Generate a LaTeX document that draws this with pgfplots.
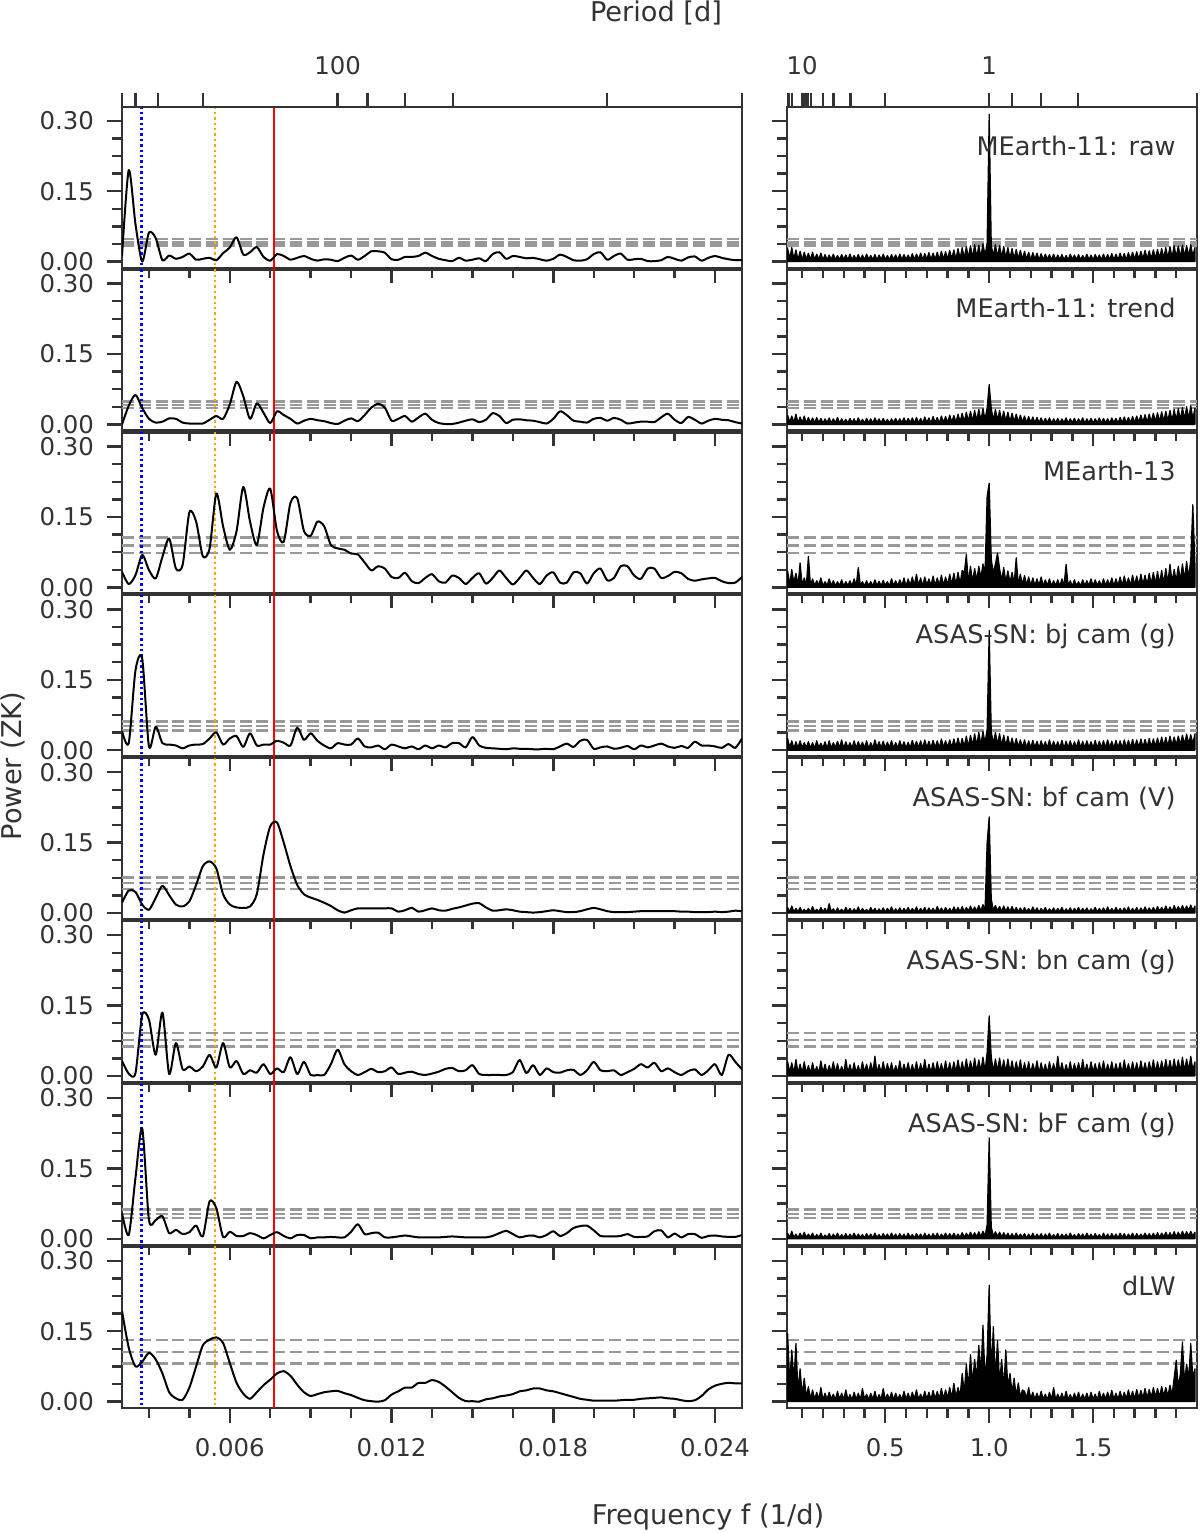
\documentclass[border=0pt]{standalone}
\usepackage{fontspec}
\setmainfont{DejaVu Sans}
\usepackage{pgfplots}
\usepackage{pgfplotstable}
\pgfplotsset{compat=1.18}
\definecolor{tc}{HTML}{333333}
\definecolor{fapc}{HTML}{999999}
\definecolor{myorange}{HTML}{FFA500}

\pgfplotstableread{
x a b c d e f g h
0.00200 .012 0 .033 .041 .022 .032 .055 .193
0.00225 .195 .04 .007 .015 .048 .005 .008 .115
0.00250 .08 .063 .026 .17 .045 .006 .13 .075
0.00275 0 .035 .069 .195 .018 .13 .235 .085
0.00300 .062 .012 .037 .008 .007 .12 .04 .104
0.00325 .05 .004 .019 .05 .032 .045 .04 .09
0.00350 .003 .006 .065 .015 .058 .135 .048 .06
0.00375 .013 .013 .104 .012 .038 .004 .012 .02
0.00400 .006 .012 .04 .01 .018 .07 .019 .007
0.00425 .01 .004 .048 .004 .014 .014 .01 .004
0.00450 .017 .002 .16 .01 .025 .02 .014 .03
0.00475 .004 .002 .14 .012 .06 .01 .028 .075
0.00500 .006 .002 .066 .013 .1 .02 .005 .12
0.00525 .008 .01 .083 .025 .11 .045 .08 .132
0.00550 .003 .018 .2 .038 .095 .018 .065 .137
0.00575 .018 .012 .13 .012 .04 .07 .004 .125
0.00600 .03 .043 .08 .025 .018 .018 .015 .082
0.00625 .052 .091 .12 .03 .012 .032 .006 .04
0.00650 .015 .06 .214 .007 .011 .004 .006 .017
0.00675 .02 .012 .14 .036 .014 .012 .012 .006
0.00700 .031 .045 .09 .01 .04 .007 .008 .02
0.00725 .01 .025 .17 .012 .125 .025 .001 .035
0.00750 .002 .003 .21 .012 .185 .004 .008 .047
0.00775 .016 .028 .12 .02 .193 .016 .014 .06
0.00800 .012 .02 .097 .016 .15 .008 .006 .065
0.00825 .004 .012 .18 .01 .1 .04 .001 .055
0.00850 .008 .002 .19 .048 .06 .004 .008 .036
0.00875 .012 .008 .12 .022 .04 .03 .008 .02
0.00900 .006 .012 .11 .036 .033 .002 .001 .012
0.00925 .002 .009 .14 .02 .028 .002 .003 .016
0.00950 .005 .007 .13 .01 .022 .002 .003 .02
0.00975 .004 .003 .09 .004 .015 .025 .004 .022
0.01000 .001 .001 .083 .015 .006 .056 .003 .023
0.01025 .008 .008 .08 .012 .001 .025 .003 .018
0.01050 .013 .013 .072 .012 .006 .01 .015 .014
0.01075 .004 .007 .07 .025 .01 .002 .031 .008
0.01100 .012 .02 .053 .008 .01 .008 .01 .003
0.01125 .022 .036 .036 .006 .01 .015 .012 .001
0.01150 .022 .044 .045 .01 .01 .008 .013 0
0.01175 .019 .036 .04 .002 .01 .01 .003 .003
0.01200 .005 .008 .022 .012 .01 .018 .003 .015
0.01225 .004 .012 .02 .008 .003 .004 .005 .022
0.01250 .01 .018 .031 .004 .006 .007 .007 .03
0.01275 .01 .006 .013 .008 .011 .009 .005 .03
0.01300 .012 .015 .009 .002 .003 .004 .003 .04
0.01325 .019 .023 .02 .01 .006 .002 .003 .04
0.01350 .012 .01 .028 .004 .01 .005 .003 .046
0.01375 .006 .003 .013 .01 .006 .009 .003 .042
0.01400 .003 .001 .01 .006 .005 .015 .004 .032
0.01425 .001 .001 .025 .015 .009 .017 .005 .02
0.01450 .008 .004 .02 .015 .012 .01 .004 .008
0.01475 .002 .008 .007 .006 .016 .012 .003 .001
0.01500 .004 .011 .02 .028 .02 .023 .003 .001
0.01525 .007 .005 .03 .01 .021 .004 .003 0
0.01550 .001 .01 .008 .005 .012 .002 .003 .005
0.01575 .016 .024 .02 .004 .005 .002 .006 .007
0.01600 .02 .018 .036 .003 .006 .002 .012 .011
0.01625 .006 .003 .02 .002 .008 .002 .017 .013
0.01650 .012 .01 .006 .004 .006 .008 .01 .016
0.01675 .01 .011 .02 .003 .003 .034 .003 .022
0.01700 .007 .009 .036 .003 .002 .006 .006 .024
0.01725 .008 .008 .02 .002 .001 .023 .007 .028
0.01750 .005 .005 .007 .002 .002 .002 .003 .028
0.01775 .002 .002 .025 .003 .004 .016 .008 .024
0.01800 .006 .012 .032 .002 .006 .008 .016 .022
0.01825 .015 .028 .01 .008 .004 .007 .006 .018
0.01850 .01 .02 .01 .014 .002 .012 .012 .014
0.01875 .003 .008 .032 .007 .002 .013 .023 .01
0.01900 .002 .006 .03 .02 .004 .002 .027 .006
0.01925 .005 .004 .008 .022 .008 .012 .028 .004
0.01950 .016 .012 .03 .003 .011 .03 .018 .002
0.01975 .02 .014 .04 .006 .008 .012 .006 .002
0.02000 .004 .008 .015 .008 .004 .01 .005 .002
0.02025 .012 .014 .02 .003 .002 .012 .005 .002
0.02050 .017 .01 .045 .005 .002 .002 .006 .003
0.02075 .004 .002 .045 .009 .002 .008 .01 .004
0.02100 .005 .004 .025 .002 .003 .015 .004 .004
0.02125 .006 .006 .018 .01 .004 .025 .004 .006
0.02150 .001 .006 .04 .006 .004 .018 .005 .007
0.02175 .001 .005 .04 .01 .004 .028 .016 .008
0.02200 .003 .015 .02 .014 .004 .01 .018 .009
0.02225 .01 .023 .024 .008 .004 .016 .003 .007
0.02250 .006 .01 .033 .005 .004 .008 .011 .006
0.02275 .002 .003 .03 .009 .003 .002 .003 .003
0.02300 .009 .016 .018 .005 .003 .01 .01 .001
0.02325 .011 .01 .014 .018 .002 .014 .01 .003
0.02350 .002 .002 .017 .01 .002 .002 .002 .012
0.02375 .008 .008 .019 .01 .002 .012 .006 .026
0.02400 .012 .012 .02 .008 .003 .025 .007 .034
0.02425 .008 .01 .013 .005 .002 .002 .005 .038
0.02450 .005 .009 .009 .013 .003 .045 .004 .04
0.02475 .003 .005 .01 .005 .005 .03 .004 .039
0.02500 .003 .002 .022 .025 .004 .014 .008 .039
}\Ldata

\pgfplotstableread{
x a b c d e f g h
0.03 .028 .02 .035 .025 .012 .03 .012 .145
0.04 .006 .005 .006 .006 .003 .008 .003 .04
0.05 .03 .018 .038 .02 .015 .028 .016 .11
0.06 .005 .004 .01 .004 .002 .006 .003 .045
0.07 .025 .022 .03 .018 .01 .035 .01 .124
0.08 .004 .003 .005 .005 .003 .006 .002 .02
0.09 .022 .016 .052 .02 .012 .025 .012 .07
0.10 .004 .004 .004 .005 .002 .007 .003 .015
0.11 .02 .018 .02 .016 .008 .03 .014 .05
0.12 .005 .003 .004 .006 .003 .006 .003 .01
0.13 .018 .015 .066 .018 .01 .022 .01 .032
0.14 .004 .004 .004 .005 .002 .006 .003 .006
0.15 .02 .014 .018 .016 .014 .028 .012 .025
0.16 .004 .003 .004 .004 .003 .007 .002 .005
0.17 .016 .015 .014 .02 .008 .02 .009 .02
0.18 .005 .004 .005 .006 .002 .006 .003 .005
0.19 .018 .013 .02 .015 .012 .032 .012 .03
0.20 .004 .003 .003 .005 .003 .007 .002 .004
0.21 .015 .012 .012 .018 .01 .025 .008 .018
0.22 .004 .004 .004 .004 .002 .006 .003 .005
0.23 .014 .014 .018 .02 .02 .022 .011 .02
0.24 .005 .003 .004 .005 .003 .008 .002 .006
0.25 .016 .012 .014 .016 .009 .03 .01 .016
0.26 .004 .004 .003 .006 .002 .006 .003 .004
0.27 .013 .015 .012 .019 .011 .026 .012 .022
0.28 .004 .003 .004 .005 .003 .007 .002 .005
0.29 .015 .012 .016 .022 .008 .02 .009 .018
0.30 .005 .004 .003 .004 .002 .006 .003 .004
0.31 .014 .011 .012 .018 .012 .035 .011 .025
0.32 .004 .003 .004 .006 .003 .007 .002 .005
0.33 .016 .013 .014 .016 .01 .024 .01 .015
0.34 .004 .004 .003 .005 .002 .006 .003 .004
0.35 .013 .012 .018 .02 .009 .028 .012 .02
0.36 .005 .003 .004 .005 .003 .007 .002 .005
0.37 .015 .014 .042 .018 .013 .022 .01 .018
0.38 .004 .004 .004 .006 .002 .006 .003 .004
0.39 .014 .011 .012 .017 .01 .03 .009 .028
0.40 .004 .003 .003 .005 .003 .008 .002 .005
0.41 .016 .013 .014 .02 .008 .025 .011 .016
0.42 .005 .004 .004 .004 .002 .006 .003 .004
0.43 .013 .012 .012 .016 .012 .028 .01 .018
0.44 .004 .003 .003 .005 .003 .007 .002 .005
0.45 .015 .014 .016 .022 .01 .042 .012 .022
0.46 .004 .004 .004 .006 .002 .006 .003 .004
0.47 .014 .012 .013 .018 .009 .024 .009 .015
0.48 .005 .003 .003 .005 .003 .007 .002 .005
0.49 .016 .013 .015 .019 .011 .03 .011 .028
0.50 .004 .004 .004 .005 .002 .006 .003 .004
0.51 .013 .011 .012 .017 .01 .026 .01 .016
0.52 .004 .003 .003 .006 .003 .008 .002 .005
0.53 .015 .012 .018 .02 .013 .028 .012 .02
0.54 .005 .004 .004 .005 .002 .006 .003 .004
0.55 .014 .013 .014 .016 .009 .022 .01 .018
0.56 .004 .003 .003 .005 .003 .007 .002 .005
0.57 .016 .012 .016 .02 .011 .032 .011 .015
0.58 .004 .004 .004 .006 .002 .006 .003 .004
0.59 .015 .014 .02 .018 .01 .025 .01 .022
0.60 .005 .003 .003 .005 .003 .008 .002 .005
0.61 .014 .013 .018 .017 .012 .028 .012 .018
0.62 .004 .004 .004 .005 .002 .006 .003 .004
0.63 .017 .014 .022 .021 .01 .024 .009 .02
0.64 .004 .003 .004 .006 .003 .007 .002 .006
0.65 .016 .015 .028 .019 .013 .03 .011 .025
0.66 .005 .004 .004 .005 .002 .006 .003 .005
0.67 .018 .013 .02 .02 .01 .026 .01 .016
0.68 .004 .003 .003 .005 .003 .008 .002 .005
0.69 .017 .016 .022 .022 .012 .035 .012 .022
0.70 .005 .004 .005 .006 .002 .006 .003 .006
0.71 .019 .014 .018 .019 .011 .025 .01 .02
0.72 .004 .003 .004 .005 .003 .007 .002 .005
0.73 .018 .017 .024 .021 .01 .028 .011 .024
0.74 .005 .004 .004 .006 .002 .006 .003 .006
0.75 .02 .015 .02 .02 .014 .03 .012 .022
0.76 .004 .003 .005 .005 .003 .008 .002 .006
0.77 .022 .018 .026 .024 .011 .026 .01 .028
0.78 .005 .004 .004 .006 .002 .006 .003 .006
0.79 .021 .017 .022 .02 .012 .032 .012 .025
0.80 .005 .004 .005 .006 .003 .007 .003 .008
0.81 .024 .02 .028 .022 .01 .028 .011 .03
0.82 .006 .005 .006 .006 .002 .006 .003 .008
0.83 .025 .019 .03 .024 .013 .03 .012 .039
0.84 .005 .005 .006 .007 .003 .008 .003 .01
0.85 .028 .022 .032 .026 .012 .034 .01 .03
0.86 .006 .006 .008 .007 .003 .007 .003 .012
0.87 .03 .024 .036 .025 .014 .03 .013 .06
0.88 .007 .006 .03 .008 .003 .008 .003 .02
0.89 .032 .026 .07 .03 .012 .036 .012 .08
0.90 .008 .007 .01 .008 .004 .008 .004 .03
0.91 .034 .028 .045 .032 .015 .032 .014 .1
0.92 .008 .007 .012 .01 .004 .009 .004 .04
0.93 .036 .03 .04 .035 .013 .038 .013 .09
0.94 .009 .008 .015 .01 .004 .009 .004 .05
0.95 .035 .032 .045 .038 .016 .034 .015 .12
0.96 .01 .009 .02 .012 .005 .01 .005 .06
0.97 .038 .034 .05 .04 .018 .04 .016 .163
0.98 .012 .01 .03 .015 .006 .01 .006 .05
0.99 .04 .036 .194 .045 .15 .05 .03 .1
1.00 .314 .085 .222 .255 .205 .128 .215 .248
1.01 .035 .034 .06 .04 .03 .04 .025 .06
1.02 .012 .01 .03 .014 .006 .01 .006 .16
1.03 .036 .032 .05 .038 .016 .036 .015 .05
1.04 .01 .009 .073 .012 .005 .01 .005 .13
1.05 .034 .03 .04 .035 .014 .038 .014 .04
1.06 .009 .008 .015 .01 .004 .009 .004 .09
1.07 .032 .028 .042 .032 .015 .034 .013 .03
1.08 .008 .007 .012 .009 .004 .008 .004 .11
1.09 .03 .026 .035 .03 .013 .036 .012 .03
1.10 .007 .006 .01 .008 .003 .008 .003 .06
1.11 .028 .024 .032 .026 .014 .032 .011 .02
1.12 .006 .006 .008 .007 .003 .007 .003 .05
1.13 .026 .022 .063 .025 .012 .03 .012 .012
1.14 .006 .005 .006 .007 .003 .008 .003 .04
1.15 .024 .02 .028 .022 .011 .034 .01 .01
1.16 .005 .005 .006 .006 .002 .006 .003 .025
1.17 .022 .018 .025 .022 .012 .028 .011 .022
1.18 .005 .004 .005 .006 .003 .007 .002 .008
1.19 .02 .017 .022 .02 .01 .03 .01 .03
1.20 .004 .004 .004 .005 .002 .006 .003 .006
1.21 .019 .016 .02 .021 .013 .026 .012 .02
1.22 .005 .003 .004 .006 .003 .008 .002 .005
1.23 .018 .015 .018 .019 .011 .032 .01 .018
1.24 .004 .004 .004 .005 .002 .006 .003 .005
1.25 .017 .014 .022 .02 .01 .028 .011 .022
1.26 .004 .003 .003 .006 .003 .007 .002 .005
1.27 .016 .013 .016 .018 .012 .025 .01 .016
1.28 .005 .004 .004 .005 .002 .006 .003 .004
1.29 .015 .014 .018 .022 .009 .03 .012 .02
1.30 .004 .003 .003 .005 .003 .008 .002 .005
1.31 .016 .012 .014 .019 .011 .026 .009 .03
1.32 .004 .004 .004 .006 .002 .006 .003 .004
1.33 .014 .013 .016 .018 .01 .042 .011 .016
1.34 .005 .003 .003 .005 .003 .007 .002 .005
1.35 .015 .012 .018 .021 .012 .028 .01 .018
1.36 .004 .004 .004 .005 .002 .006 .003 .004
1.37 .013 .014 .049 .019 .009 .024 .01 .022
1.38 .004 .003 .004 .006 .003 .007 .002 .005
1.39 .016 .012 .014 .02 .011 .03 .012 .015
1.40 .005 .004 .003 .005 .002 .006 .003 .004
1.41 .014 .013 .016 .018 .01 .026 .009 .018
1.42 .004 .003 .004 .006 .003 .008 .002 .005
1.43 .015 .012 .012 .022 .012 .028 .011 .02
1.44 .004 .004 .003 .005 .002 .006 .003 .004
1.45 .013 .014 .016 .019 .01 .035 .01 .016
1.46 .005 .003 .004 .005 .003 .007 .002 .005
1.47 .016 .012 .014 .02 .011 .025 .012 .018
1.48 .004 .004 .004 .006 .002 .006 .003 .004
1.49 .014 .013 .018 .018 .009 .03 .01 .02
1.50 .004 .003 .003 .005 .003 .008 .002 .005
1.51 .015 .012 .016 .021 .012 .026 .011 .016
1.52 .005 .004 .004 .005 .002 .006 .003 .004
1.53 .014 .014 .014 .019 .01 .028 .009 .022
1.54 .004 .003 .003 .006 .003 .007 .002 .005
1.55 .016 .013 .018 .02 .011 .032 .012 .018
1.56 .004 .004 .004 .005 .002 .006 .003 .005
1.57 .015 .012 .016 .022 .013 .025 .01 .02
1.58 .005 .003 .004 .006 .003 .008 .002 .005
1.59 .017 .014 .02 .019 .01 .03 .011 .024
1.60 .004 .004 .003 .005 .002 .006 .003 .005
1.61 .016 .013 .018 .021 .012 .026 .01 .018
1.62 .004 .003 .004 .006 .003 .007 .002 .005
1.63 .018 .015 .022 .02 .01 .028 .012 .022
1.64 .005 .004 .004 .005 .002 .006 .003 .005
1.65 .017 .016 .024 .022 .011 .034 .011 .02
1.66 .004 .003 .005 .006 .003 .008 .002 .006
1.67 .019 .015 .02 .021 .013 .026 .01 .025
1.68 .005 .004 .004 .005 .002 .006 .003 .006
1.69 .02 .017 .026 .023 .01 .03 .012 .022
1.70 .005 .004 .005 .006 .003 .007 .002 .006
1.71 .021 .018 .024 .022 .012 .028 .011 .026
1.72 .005 .005 .005 .006 .002 .006 .003 .007
1.73 .022 .02 .028 .024 .011 .032 .01 .024
1.74 .006 .005 .006 .006 .003 .008 .003 .008
1.75 .024 .021 .026 .023 .013 .028 .012 .028
1.76 .006 .005 .006 .007 .003 .007 .003 .008
1.77 .023 .022 .03 .025 .011 .03 .011 .026
1.78 .006 .006 .007 .007 .003 .008 .003 .009
1.79 .025 .024 .032 .024 .012 .034 .012 .03
1.80 .007 .006 .007 .008 .003 .007 .003 .01
1.81 .026 .025 .034 .026 .014 .03 .013 .028
1.82 .007 .006 .008 .008 .004 .008 .003 .01
1.83 .028 .027 .036 .028 .012 .032 .012 .032
1.84 .008 .007 .009 .009 .004 .008 .004 .012
1.85 .03 .028 .04 .027 .015 .035 .014 .03
1.86 .008 .008 .01 .009 .004 .009 .004 .012
1.87 .032 .03 .049 .03 .013 .033 .013 .035
1.88 .009 .008 .012 .01 .004 .009 .004 .015
1.89 .034 .032 .038 .028 .016 .036 .015 .05
1.90 .01 .009 .014 .011 .005 .01 .004 .088
1.91 .033 .034 .045 .03 .014 .034 .014 .03
1.92 .01 .01 .015 .012 .005 .01 .005 .06
1.93 .035 .036 .05 .032 .016 .04 .016 .127
1.94 .011 .011 .016 .012 .005 .01 .005 .04
1.95 .034 .038 .055 .034 .015 .036 .015 .08
1.96 .012 .012 .02 .014 .006 .012 .006 .05
1.97 .036 .04 .06 .033 .017 .042 .016 .124
1.98 .012 .012 .176 .014 .006 .012 .006 .05
1.99 .03 .035 .05 .035 .015 .03 .014 .07
}\Rdata

\pgfplotsset{
  panel/.style={scale only axis, height=80.5pt, ymin=-0.013, ymax=0.33,
    anchor=north west, clip=true, scaled x ticks=false, scaled y ticks=false,
    axis line style={tc, line width=1.2pt},
    tick style={tc, line width=1.2pt},
    tick align=outside, major tick length=7.5pt, minor tick length=5pt,
    xtick pos=bottom, ytick pos=left,
    ytick={0,0.15,0.3},
    minor ytick={0.0375,0.075,0.1125,0.1875,0.225,0.2625},
    tick label style={font=\fontsize{12.2}{14}\selectfont, text=tc},
    xticklabels={},
    xticklabel style={yshift=-4.5pt},
    yticklabel style={xshift=-3pt},
  },
  Lp/.style={panel, width=310pt, xmin=0.002, xmax=0.025,
    xtick={0.006,0.012,0.018,0.024},
    minor xtick={0.003,0.0045,0.0075,0.009,0.0105,0.0135,0.015,0.0165,0.0195,0.021,0.0225},
    yticklabels={0.00,0.15,0.30}},
  Rp/.style={panel, width=205pt, xmin=0.027, xmax=2.0,
    xtick={0.5,1,1.5},
    minor xtick={0.1,0.2,0.3,0.4,0.6,0.7,0.8,0.9,1.1,1.2,1.3,1.4,1.6,1.7,1.8,1.9},
    yticklabels={}},
  fap/.style={fapc, line width=1.2pt, dash pattern=on 6pt off 2.4pt},
  curve/.style={black, line width=1pt, line join=round, smooth, tension=0.45},
  rcurve/.style={black, fill=black, line width=0.6pt, line join=round},
  dotl/.style={line width=1.2pt, dash pattern=on 1.2pt off 1.5pt},
  topax/.style={scale only axis, height=80.5pt, ymin=-0.013, ymax=0.33,
    anchor=north west, hide y axis, axis x line*=top, scaled x ticks=false,
    axis line style={tc, line width=1.2pt},
    tick style={tc, line width=1.2pt},
    tick align=outside, major tick length=7pt,
    tick label style={font=\fontsize{12.2}{14}\selectfont, text=tc},
    xticklabel style={yshift=5.5pt}},
}

\newcommand{\Lpanel}[6]{%
\begin{axis}[Lp, at={(61pt,#1)}, #6]
\addplot[fap] coordinates {(0.002,#3) (0.025,#3)};
\addplot[fap] coordinates {(0.002,#4) (0.025,#4)};
\addplot[fap] coordinates {(0.002,#5) (0.025,#5)};
\addplot[blue, dotl] coordinates {(0.00273,-0.1) (0.00273,0.5)};
\addplot[myorange, dotl] coordinates {(0.00545,-0.1) (0.00545,0.5)};
\addplot[red, line width=1pt] coordinates {(0.00765,-0.1) (0.00765,0.5)};
\addplot[curve] table[x=x, y=#2] {\Ldata};
\end{axis}}

\newcommand{\Rpanel}[7]{%
\begin{axis}[Rp, at={(393.5pt,#1)}, #7]
\addplot[fap] coordinates {(0.027,#3) (2.0,#3)};
\addplot[fap] coordinates {(0.027,#4) (2.0,#4)};
\addplot[fap] coordinates {(0.027,#5) (2.0,#5)};
\addplot[rcurve] table[x=x, y=#2] {\Rdata} \closedcycle;
\node[anchor=base east, font=\fontsize{12.8}{15}\selectfont, text=tc, inner sep=0pt] at (rel axis cs:0.949,0.70) {#6};
\end{axis}}

\begin{document}
\begin{tikzpicture}
\path[use as bounding box] (0pt,0pt) rectangle (600pt,-766.5pt);

\Lpanel{-53.35pt}{a}{.048}{.041}{.034}{}
\Lpanel{-134.78pt}{b}{.049}{.042}{.035}{}
\Lpanel{-216.21pt}{c}{.106}{.089}{.073}{}
\Lpanel{-297.64pt}{d}{.061}{.052}{.042}{}
\Lpanel{-379.07pt}{e}{.076}{.064}{.051}{}
\Lpanel{-460.5pt}{f}{.092}{.077}{.063}{}
\Lpanel{-541.93pt}{g}{.062}{.053}{.044}{}
\Lpanel{-623.36pt}{h}{.131}{.106}{.081}{xticklabels={0.006,0.012,0.018,0.024}}

\Rpanel{-53.35pt}{a}{.048}{.041}{.034}{MEarth-11: raw}{}
\Rpanel{-134.78pt}{b}{.049}{.042}{.035}{MEarth-11: trend}{}
\Rpanel{-216.21pt}{c}{.106}{.089}{.073}{MEarth-13}{}
\Rpanel{-297.64pt}{d}{.061}{.052}{.042}{ASAS-SN: bj cam (g)}{}
\Rpanel{-379.07pt}{e}{.076}{.064}{.051}{ASAS-SN: bf cam (V)}{}
\Rpanel{-460.5pt}{f}{.092}{.077}{.063}{ASAS-SN: bn cam (g)}{}
\Rpanel{-541.93pt}{g}{.062}{.053}{.044}{ASAS-SN: bF cam (g)}{}
\Rpanel{-623.36pt}{h}{.131}{.106}{.081}{dLW}{xticklabels={0.5,1.0,1.5}}

\begin{axis}[topax, width=310pt, at={(61pt,-53.35pt)}, xmin=0.002, xmax=0.025,
  xtick={0.002,0.0025,0.0033333,0.005,0.01,0.0111111,0.0125,0.0142857,0.02,0.025},
  xticklabels={,,,,100,,,,,}]
\addplot[draw=none] coordinates {(0.01,0)};
\end{axis}
\begin{axis}[topax, width=205pt, at={(393.5pt,-53.35pt)}, xmin=0.027, xmax=2.0,
  xtick={0.0333333,0.05,0.1,0.1111111,0.125,0.1428571,0.2,0.25,0.3333333,0.5,1,1.1111111,1.25,1.4285714,2},
  xticklabels={,,10,,,,,,,,1,,,,}]
\addplot[draw=none] coordinates {(1,0)};
\end{axis}

\node[font=\fontsize{13.6}{16}\selectfont, text=tc] at (328pt,-6.5pt) {Period [d]};
\node[font=\fontsize{13.6}{16}\selectfont, text=tc] at (354pt,-758.5pt) {Frequency f (1/d)};
\node[font=\fontsize{13.6}{16}\selectfont, text=tc, rotate=90] at (6.5pt,-383pt) {Power (ZK)};
\end{tikzpicture}
\end{document}
